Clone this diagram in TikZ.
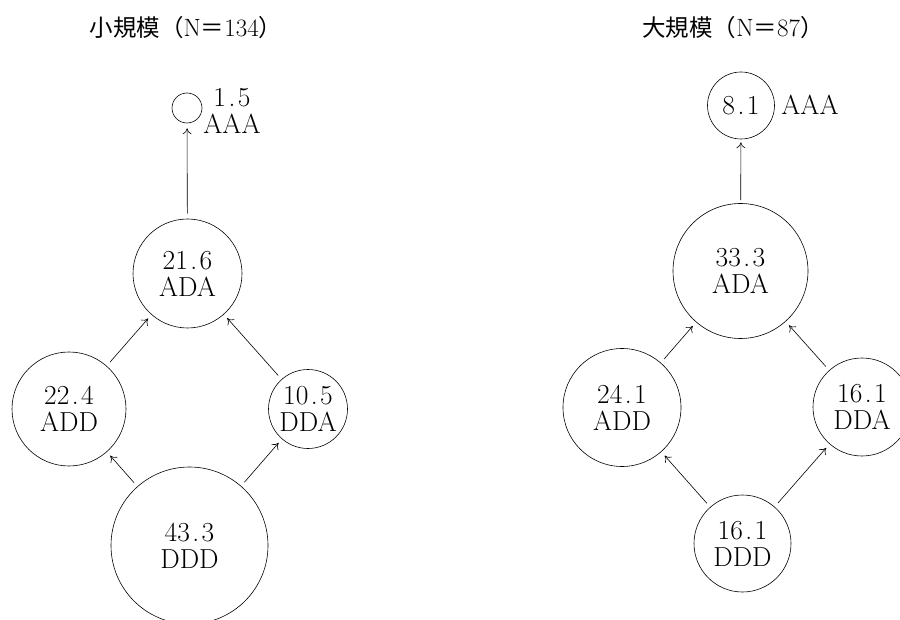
\documentclass[tikz,border=0pt]{standalone}
\usepackage{fontspec}
\newfontfamily\cjk{Noto Sans CJK JP}
\usetikzlibrary{arrows.meta}
% decimal number with the loose point spacing used in the labels
\newcommand{\decnum}[2]{#1\kern2.5pt.\kern2.5pt#2}
% Japanese characters of the headings
\newcommand{\jp}[1]{{\cjk\fontsize{23.5}{26}\selectfont #1}}
\begin{document}
\begin{tikzpicture}[x=1pt,y=-1pt,
  bubble/.style={draw, circle, line width=0.6pt, inner sep=0pt, minimum size=#1,
    align=center, font=\fontsize{27.5}{27}\selectfont},
  lab/.style={inner sep=0pt, align=center, font=\fontsize{27.5}{27}\selectfont},
  flow/.style={-{To[length=6pt,width=9pt]}, line width=0.6pt, shorten <=5pt, shorten >=5pt},
  heading/.style={inner sep=0pt, font=\fontsize{25}{27}\selectfont}]
\clip (0,0) rectangle (900,620);
\fill[white] (0,0) rectangle (900,620);

% ---- small firms ----
\node[heading] (lTitle) at (186,28) {\jp{小規模（}N\jp{＝}134\jp{）}};
\node[bubble=30]  (lAAA) at (187,108) {};
\node[lab] (lAAAlab) at (232,111) {\decnum{1}{5}\\AAA};
\node[bubble=109] (lADA) at (187.5,273.5) {\decnum{21}{6}\\ADA};
\node[bubble=114] (lADD) at (69,409) {\decnum{22}{4}\\ADD};
\node[bubble=79]  (lDDA) at (308,409) {\decnum{10}{5}\\DDA};
\node[bubble=157] (lDDD) at (189.5,545.5) {\decnum{43}{3}\\DDD};

\draw[flow] (lADA) -- (lAAA);
\draw[flow] (lADD) -- (lADA);
\draw[flow] (lDDA) -- (lADA);
\draw[flow] (lDDD) -- (lADD);
\draw[flow] (lDDD) -- (lDDA);

% ---- large firms ----
\node[heading] (rTitle) at (733,28) {\jp{大規模（}N\jp{＝}87\jp{）}};
\node[bubble=67]  (rAAA) at (741,105.5) {\decnum{8}{1}};
\node[lab] (rAAAlab) at (810,105) {AAA};
\node[bubble=135] (rADA) at (740.5,271) {\decnum{33}{3}\\ADA};
\node[bubble=118] (rADD) at (622,407.5) {\decnum{24}{1}\\ADD};
\node[bubble=98]  (rDDA) at (862,407) {\decnum{16}{1}\\DDA};
\node[bubble=97]  (rDDD) at (742.5,543.5) {\decnum{16}{1}\\DDD};

\draw[flow, shorten <=3pt, shorten >=3pt] (rADA) -- (rAAA);
\draw[flow] (rADD) -- (rADA);
\draw[flow] (rDDA) -- (rADA);
\draw[flow] (rDDD) -- (rADD);
\draw[flow] (rDDD) -- (rDDA);
\end{tikzpicture}
\end{document}
